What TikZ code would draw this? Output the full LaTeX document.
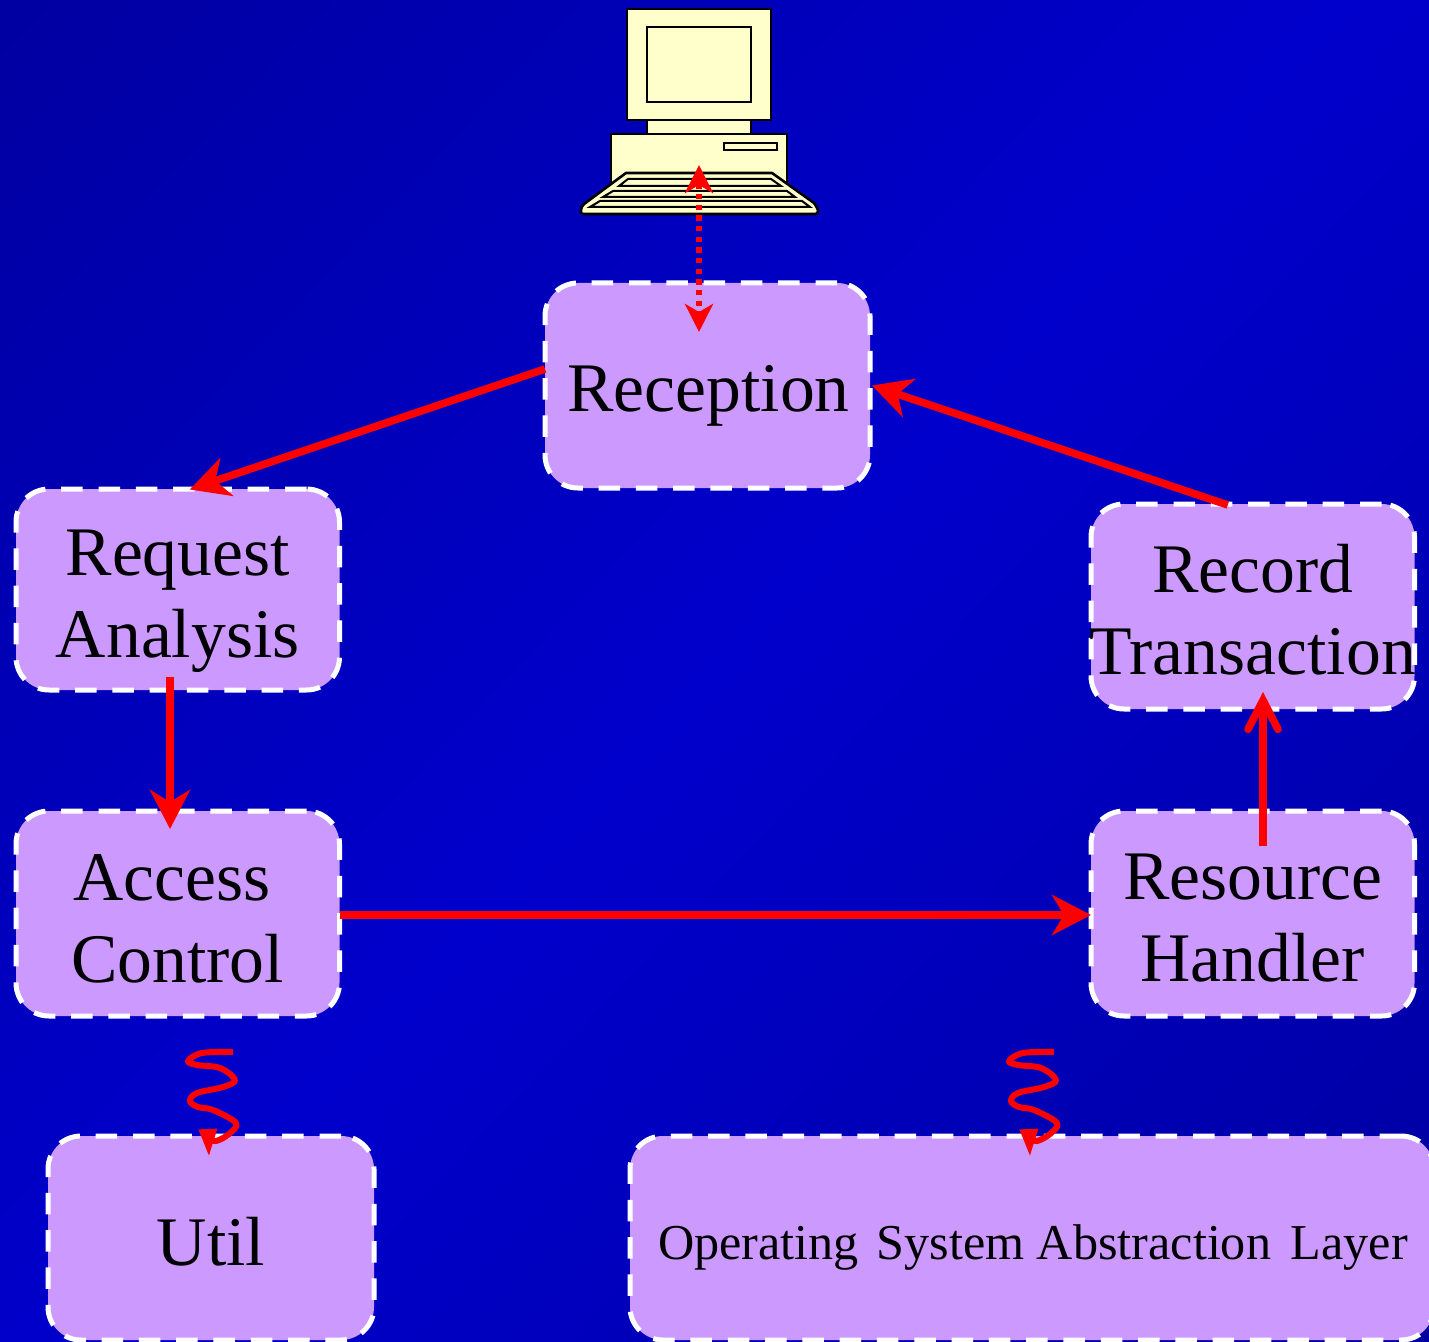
\documentclass[tikz,border=0pt]{standalone}
\usepackage{fontspec}
\setmainfont{Liberation Serif}
\usetikzlibrary{arrows.meta,calc}
\definecolor{boxfill}{RGB}{204,153,255}
\definecolor{cream}{RGB}{255,255,204}
\pgfdeclareverticalshading{diagbg}{100bp}{rgb(0bp)=(0,0,.6);rgb(8bp)=(0,0,.6);rgb(50bp)=(0,0,.8);rgb(92bp)=(0,0,.6);rgb(100bp)=(0,0,.6)}
\tikzset{
  pbox/.style={draw=white,fill=boxfill,line width=2.5pt,dash pattern=on 10.75pt off 7.9pt,rounded corners=16.5pt,
    outer sep=0pt,inner sep=0pt},
  plabel/.style={align=center,text=black,inner sep=0pt,font=\fontsize{34.8pt}{41pt}\selectfont},
  flow/.style={draw=red,line width=3.8pt,-{Stealth[length=19.5pt,width=20pt,inset=6pt]}},
  flowopen/.style={draw=red,line width=3.8pt,-{Straight Barb[length=14.5pt,width=15pt,line width=3.8pt,line cap=round,line join=miter]}},
  dots/.style={draw=red,line width=2.7pt,dash pattern=on 2.7pt off 2.63pt,{Stealth[length=14pt,width=14pt,inset=4pt]}-{Stealth[length=14pt,width=14pt,inset=4pt]}},
  squig/.style={draw=red,line width=3pt,line join=round,-{Stealth[length=14pt,width=8.5pt,inset=0pt]}},
  pc/.style={draw=black,fill=cream,line width=1.3pt,line join=miter},
  pckey/.style={draw=black,fill=cream,line width=1pt},
}
\begin{document}
\begin{tikzpicture}[x=0.5pt,y=-0.5pt]
\useasboundingbox (0,0) rectangle (1429,1342);
\clip (0,0) rectangle (1429,1342);
\shade[shading=diagbg,shading angle=46.8] (0,0) rectangle (1429,1342);
% computer
\draw[pc] (647,118) rectangle (751,136);
\draw[pc] (627,9) rectangle (771,120);
\draw[pc] (647,27) rectangle (751,102);
\draw[pc] (611,134) rectangle (787,190);
\draw[pc,line width=1.1pt] (724,143) rectangle (777,150);
\draw[pc,line join=round] (626,173) -- (772,173) -- (814,203) .. controls (816,206) and (818,209) .. (818,211) .. controls (818,213) and (817,214) .. (815,214)
  -- (584,214) .. controls (581,214) and (580,212) .. (581,210) .. controls (581,208) and (582,206) .. (584,204) -- cycle;
\draw[pckey] (628,179) -- (771,179) -- (781,186) -- (619,186) -- cycle;
\draw[pckey] (613,191) -- (787,191) -- (795,197) -- (603,197) -- cycle;
\draw[pckey] (600,201) -- (802,201) -- (810,207) -- (590,207) -- cycle;
% boxes
\node[pbox,minimum width=162.5pt,minimum height=102.5pt,label={[plabel,yshift=-5pt,xshift=0.5pt]center:Reception}] (reception) at (707.5,385.5) {};
\node[pbox,minimum width=161.75pt,minimum height=100.5pt,label={[plabel,yshift=-6pt]center:{Request\\Analysis}}] (request) at (177.75,589.5) {};
\node[pbox,minimum width=161.75pt,minimum height=102.5pt,label={[plabel,yshift=-2.5pt]center:{Access\kern6pt\\Control}}] (access) at (177.75,913.5) {};
\node[pbox,minimum width=161.75pt,minimum height=102.5pt,label={[plabel,yshift=-1.5pt]center:{Record\\Transaction}}] (record) at (1252.75,606.5) {};
\node[pbox,minimum width=161.75pt,minimum height=102.5pt,label={[plabel,yshift=-2.5pt]center:{Resource\\Handler}}] (resource) at (1252.75,913.5) {};
\node[pbox,minimum width=163pt,minimum height=102pt,label={[plabel,yshift=-2pt]center:Util}] (util) at (211,1238) {};
\node[pbox,minimum width=402pt,minimum height=102pt,label={[plabel,yshift=-4.5pt,xshift=0.5pt,font=\fontsize{25.1pt}{30pt}\selectfont]center:{Operating\hspace{2.5pt} System Abstraction\hspace{3.5pt} Layer}}] (osal) at (1032,1238) {};
% connectors
\coordinate (pcport) at (699,165);
\draw[dots] (pcport) -- ($(reception.north)+(-8.5,49)$);
\draw[flow] ($(reception.west)+(0,-16.5)$) -- ($(request.north)+(12,0.5)$);
\draw[flow] ($(request.south)+(-7.75,-13)$) -- ($(access.north)+(-7.75,18)$);
\draw[flow] ($(access.east)+(0,1.5)$) -- ($(resource.west)+(0,1.5)$);
\draw[flowopen] ($(resource.north)+(10.25,35)$) -- ($(record.south)+(10.25,-17)$);
\draw[flow] ($(record.north)+(-25,1)$) -- ($(reception.east)+(2,0)$);
\coordinate (sq1) at ($(util.north)+(22,-84)$);
\coordinate (sq2) at ($(osal.north)+(22,-84)$);
\foreach \s in {sq1,sq2}{
\draw[squig,shift={(\s)}] plot[smooth,tension=0.6] coordinates {(0,0) (-31,1) (-45,9) (-36,13) (-13,16) (2,28) (-10,35) (-36,41) (-43,49) (-35,55) (-20,58) (3,71) (-4,82) (-14,88)} .. controls (-23,93) and (-25,80) .. (-24,105);
}
\end{tikzpicture}
\end{document}
